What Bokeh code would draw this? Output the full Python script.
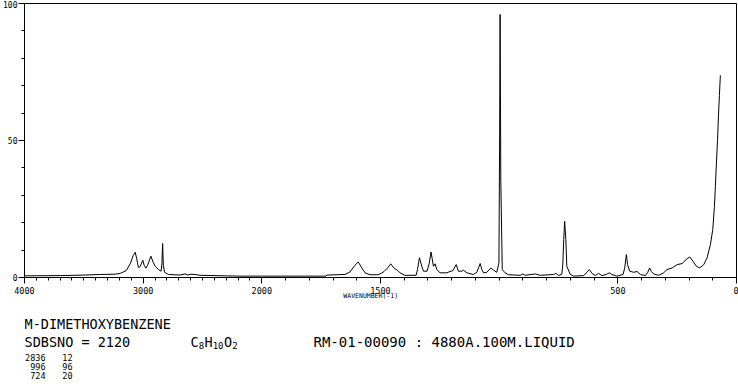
import numpy as np
from bokeh.plotting import figure
from bokeh.models import FixedTicker, Range1d
from bokeh.layouts import column
from bokeh.core.properties import value
from bokeh.embed import file_html
from bokeh.resources import INLINE

# ---- spectrum (wavenumber cm-1, relative intensity) ----
wavenumber = [
    4000, 3697, 3487, 3361, 3235, 3193, 3143, 3109, 3084, 3067, 3055, 3040, 3025,
    3003, 2992, 2977, 2962, 2935, 2920, 2899, 2871, 2849, 2842, 2836, 2830, 2820,
    2787, 2689, 2647, 2622, 2597, 2563, 2521, 2395, 2311, 2185, 2000,
    1840, 1730, 1726, 1650, 1629, 1608, 1594, 1589, 1579, 1565, 1544, 1511, 1495,
    1485, 1470, 1457, 1447, 1439, 1429, 1418, 1397, 1350, 1344, 1336, 1326, 1319,
    1304, 1295, 1287, 1277, 1270, 1263, 1249, 1221, 1207, 1195, 1181, 1172, 1157,
    1151, 1136, 1109, 1094, 1080, 1073, 1066, 1052, 1035, 1024, 1010, 1001, 998,
    996, 993, 987, 975, 961, 911, 900, 890, 848, 827,
    771, 760, 750, 736, 732, 728, 724, 719, 715, 701, 687, 644, 630, 620, 609,
    595, 581, 567, 549, 536, 525, 504, 478, 471, 464, 459, 450, 433, 419, 405,
    384, 374, 366, 359, 349, 328, 307, 293, 271, 250, 229, 208, 197, 183, 169,
    155, 138, 124, 110, 100, 93, 89, 85, 80, 76, 72, 68,
]
intensity = [
    0.6, 0.7, 0.9, 1.1, 1.2, 1.5, 2.5, 5.0, 8.0, 9.2, 7.0, 3.6, 4.0,
    6.3, 4.5, 3.4, 4.5, 7.8, 6.0, 4.1, 2.9, 2.3, 5.0, 12.4, 4.5, 1.9,
    1.1, 0.9, 1.3, 0.9, 1.2, 1.1, 0.8, 0.7, 0.6, 0.5, 0.5,
    0.5, 0.5, 0.9, 1.1, 2.0, 4.4, 5.7, 5.0, 3.5, 1.7, 1.0, 1.0, 1.6,
    2.2, 3.5, 5.0, 3.8, 3.2, 2.7, 1.7, 0.8, 0.8, 3.0, 7.2, 4.1, 2.3,
    2.3, 5.0, 9.3, 4.1, 5.0, 2.9, 1.7, 1.7, 2.2, 2.5, 4.7, 2.3, 2.3,
    2.7, 1.7, 1.1, 1.9, 5.1, 2.9, 1.7, 1.9, 3.5, 2.7, 1.9, 5.3, 52.0,
    96.0, 35.0, 2.9, 1.7, 1.0, 0.8, 1.3, 0.8, 1.3, 0.8,
    1.1, 1.5, 0.7, 1.2, 4.7, 13.8, 20.5, 13.8, 4.1, 1.2, 0.5, 0.7, 1.9, 2.9, 1.5,
    0.7, 1.5, 0.7, 1.1, 1.7, 1.1, 0.5, 1.1, 3.5, 8.4, 4.7, 2.3, 1.9, 2.2, 1.1,
    0.7, 1.9, 3.5, 2.2, 1.3, 0.8, 1.7, 2.9, 3.5, 4.7, 5.1, 6.9, 7.5, 5.9, 4.1,
    3.5, 4.7, 7.2, 12.0, 17.5, 25.9, 33.2, 41.0, 50.0, 59.0, 66.5, 73.8,
]

# ---- axes ----
x_tick_values = [4000, 3000, 2000, 1500, 500, 0]
x_tick_labels = ["4000", "3000", "2000", "1500", "500", "0"]
x_minor_values = [4000, 3900, 3800, 3700, 3600, 3500, 3400, 3300, 3200, 3100,
                  3000, 2900, 2800, 2700, 2600, 2500, 2400, 2300, 2200, 2100,
                  2000, 1900, 1800, 1700, 1600, 1500, 1400, 1300, 1200, 1100,
                  1000, 900, 800, 700, 600, 500, 400, 300, 200, 100, 0]
y_tick_values = [0, 50, 100]
y_minor_values = [10, 20, 30, 40, 60, 70, 80, 90]

# ---- captions ----
x_axis_title = "WAVENUMBER(-1)"
compound = "M-DIMETHOXYBENZENE"
sdbs_no = "SDBSNO = 2120"
formula_main = ["C", "H", "O"]
formula_sub = ["8", "10", "2"]
conditions = "RM-01-00090 : 4880A.100M.LIQUID"
peak_wn = ["2836", "996", "724"]
peak_int = ["12", "96", "20"]

FONT = "DejaVu Sans Mono"


def to_u(w):
    """Two-scale wavenumber axis: 4000-2000 compressed by 2, 2000-0 full scale."""
    w = np.asarray(w, dtype=float)
    return np.where(w >= 2000, (4000.0 - w) / 2.0, 1000.0 + (2000.0 - w))


W = 738
H1, H2 = 302, 87
L, R, T, B = 24, 2, 3, 24   # frame: x 24..736, y 3..278

p = figure(width=W, height=H1, x_range=(0, 3000), y_range=(0, 100),
           output_backend="svg", toolbar_location=None,
           min_border_left=L, min_border_right=R, min_border_top=T, min_border_bottom=B)
p.xgrid.visible = False
p.ygrid.visible = False
p.background_fill_color = "white"
p.border_fill_color = "white"
p.outline_line_color = "black"
p.outline_line_alpha = 1.0
p.outline_line_width = 1

p.line(to_u(wavenumber), intensity, line_color="black", line_width=1)

xa = p.xaxis[0]
xt = [float(v) for v in to_u(x_tick_values)]
xa.ticker = FixedTicker(ticks=xt, minor_ticks=[float(v) for v in to_u(x_minor_values)])
xa.major_label_overrides = {t: lab for t, lab in zip(xt, x_tick_labels)}
ya = p.yaxis[0]
ya.ticker = FixedTicker(ticks=y_tick_values, minor_ticks=y_minor_values)

for ax in (xa, ya):
    ax.axis_line_color = "black"
    ax.axis_line_width = 1
    ax.major_tick_line_color = "black"
    ax.minor_tick_line_color = "black"
    ax.major_tick_in = 0
    ax.minor_tick_in = 0
    ax.minor_tick_out = 3
    ax.major_label_text_font = FONT
    ax.major_label_text_color = "black"
xa.major_label_text_font_size = "8.5px"
ya.major_label_text_font_size = "8px"
xa.major_tick_out = 6
xa.major_label_standoff = 3
ya.major_tick_out = 6
ya.major_label_standoff = 1

# axis title sits just under the tick labels, slightly left of centre
xa.axis_label = x_axis_title + "\u00a0" * 5
xa.axis_label_text_font = FONT
xa.axis_label_text_font_size = "6.5px"
xa.axis_label_text_font_style = "normal"
xa.axis_label_text_color = "black"
xa.axis_label_standoff = -5

# ---- caption panel below the chart (page pixel coordinates) ----
# the column aligns this panel's frame with the chart frame (x 24..736)
top = H1
c = figure(width=W, height=H2, x_range=Range1d(L, W - R), y_range=Range1d(top + H2, top),
           output_backend="svg", toolbar_location=None,
           x_axis_location=None, y_axis_location=None, min_border=0)
c.xgrid.visible = False
c.ygrid.visible = False
c.outline_line_color = None
c.background_fill_color = "white"
c.border_fill_color = "white"

big = dict(text_font=value(FONT), text_font_size="13.5px", text_color="black",
           text_baseline="middle", text_align="left")
c.text(x=[24, 24], y=[323, 341], text=[compound, sdbs_no], **big)
c.text(x=[313], y=[341], text=[conditions], text_font=value(FONT), text_font_size="14px",
       text_color="black", text_baseline="middle", text_align="left")

# formula with subscripts
fx, main_x, sub_x = 190.0, [], []
for m, s in zip(formula_main, formula_sub):
    main_x.append(fx)
    fx += 8.3
    sub_x.append(fx)
    fx += 5.6 * len(s)
c.text(x=main_x, y=[341] * 3, text=formula_main, **big)
c.text(x=sub_x, y=[345] * 3, text=formula_sub, text_font=value(FONT), text_font_size="9px",
       text_color="black", text_baseline="middle", text_align="left")

rows_y = [357 + 9 * i for i in range(len(peak_wn))]
small = dict(text_font=value(FONT), text_font_size="8.5px", text_color="black",
             text_baseline="middle", text_align="right")
c.text(x=[45] * len(peak_wn), y=rows_y, text=peak_wn, **small)
c.text(x=[72] * len(peak_int), y=rows_y, text=peak_int, **small)

layout = column(p, c, spacing=0)
open("out.html", "w").write(file_html(layout, INLINE))
